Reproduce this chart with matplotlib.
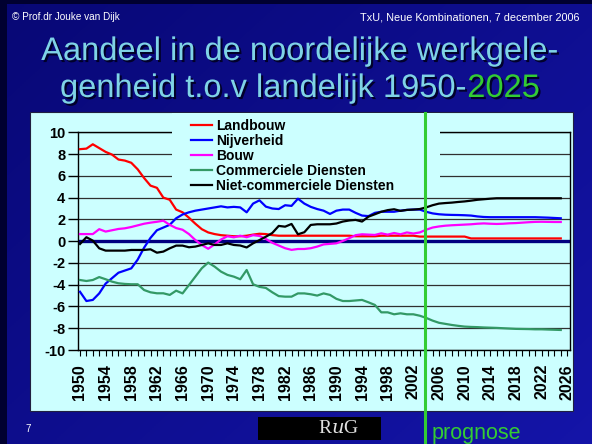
import numpy as np
import matplotlib
matplotlib.use("Agg")
import matplotlib.pyplot as plt
from matplotlib.patches import Rectangle
from matplotlib.transforms import blended_transform_factory
import matplotlib.patheffects as pe

# ---------------- data ----------------
years = list(range(1950, 2026))

landbouw = [8.45, 8.5, 8.9, 8.55, 8.2, 7.95, 7.5, 7.4, 7.2, 6.6,
            5.8, 5.1, 4.9, 4.0, 3.8, 2.9, 2.65, 2.15, 1.6, 1.1,
            0.8, 0.65, 0.55, 0.5, 0.45, 0.45, 0.5, 0.6, 0.68, 0.65,
            0.55, 0.5, 0.5, 0.5, 0.5, 0.5, 0.5, 0.5, 0.5, 0.5,
            0.5, 0.5, 0.5, 0.45, 0.45, 0.45, 0.45, 0.5, 0.5, 0.5,
            0.5, 0.5, 0.5, 0.42, 0.42, 0.42, 0.42, 0.42, 0.42, 0.42,
            0.42, 0.25, 0.25, 0.25, 0.25, 0.25, 0.25, 0.25, 0.25, 0.25,
            0.25, 0.25, 0.25, 0.25, 0.25, 0.25]

nijverheid = [-4.65, -5.5, -5.4, -4.8, -3.9, -3.4, -2.9, -2.7, -2.5, -1.7,
              -0.6, 0.3, 1.0, 1.25, 1.5, 2.1, 2.45, 2.65, 2.8, 2.9,
              3.0, 3.1, 3.2, 3.1, 3.15, 3.1, 2.65, 3.45, 3.75, 3.17,
              3.0, 2.95, 3.3, 3.24, 3.9, 3.45, 3.15, 2.95, 2.8, 2.5,
              2.8, 2.9, 2.9, 2.6, 2.35, 2.3, 2.6, 2.7, 2.7, 2.7,
              2.8, 2.87, 2.9, 2.9, 2.7, 2.55, 2.47, 2.43, 2.41, 2.4,
              2.38, 2.35, 2.27, 2.22, 2.2, 2.2, 2.2, 2.2, 2.2, 2.2,
              2.2, 2.2, 2.18, 2.16, 2.13, 2.1]

bouw = [0.65, 0.65, 0.65, 1.1, 0.88, 1.0, 1.12, 1.18, 1.3, 1.45,
        1.6, 1.7, 1.78, 1.88, 1.5, 1.2, 1.05, 0.65, 0.1, -0.35,
        -0.7, -0.3, 0.15, 0.45, 0.35, 0.5, 0.36, 0.55, 0.48, 0.2,
        -0.15, -0.4, -0.65, -0.8, -0.72, -0.72, -0.65, -0.5, -0.3, -0.25,
        -0.2, 0.02, 0.27, 0.55, 0.63, 0.6, 0.57, 0.72, 0.6, 0.75,
        0.63, 0.8, 0.7, 0.8, 1.05, 1.25, 1.35, 1.42, 1.46, 1.49,
        1.52, 1.55, 1.6, 1.63, 1.6, 1.58, 1.6, 1.64, 1.66, 1.7,
        1.74, 1.77, 1.78, 1.77, 1.76, 1.76]

commerciele = [-3.57, -3.66, -3.57, -3.3, -3.5, -3.72, -3.87, -3.93, -3.96, -3.96,
               -4.49, -4.7, -4.79, -4.79, -4.94, -4.55, -4.8, -4.03, -3.26, -2.49,
               -1.97, -2.34, -2.8, -3.1, -3.26, -3.5, -2.65, -3.96, -4.2, -4.3,
               -4.7, -5.05, -5.1, -5.1, -4.8, -4.8, -4.88, -5.0, -4.8, -4.94,
               -5.3, -5.5, -5.5, -5.45, -5.4, -5.62, -5.86, -6.54, -6.54, -6.72,
               -6.63, -6.72, -6.72, -6.85, -7.05, -7.3, -7.5, -7.6, -7.7, -7.78,
               -7.85, -7.88, -7.9, -7.93, -7.95, -7.97, -8.0, -8.03, -8.06, -8.07,
               -8.08, -8.1, -8.1, -8.12, -8.14, -8.16]

niet_commerciele = [-0.26, 0.36, 0.05, -0.66, -0.87, -0.87, -0.87, -0.87, -0.81, -0.81,
                    -0.81, -0.75, -1.06, -0.96, -0.66, -0.41, -0.41, -0.56, -0.5, -0.35,
                    -0.2, -0.35, -0.35, -0.2, -0.35, -0.4, -0.58, -0.2, 0.1, 0.41,
                    0.75, 1.4, 1.33, 1.58, 0.63, 0.82, 1.49, 1.55, 1.55, 1.55,
                    1.62, 1.8, 1.9, 1.95, 1.8, 2.25, 2.47, 2.7, 2.85, 2.93,
                    2.78, 2.87, 2.9, 2.95, 3.1, 3.3, 3.45, 3.5, 3.54, 3.6,
                    3.65, 3.72, 3.8, 3.85, 3.9, 3.94, 3.94, 3.94, 3.94, 3.94,
                    3.94, 3.94, 3.94, 3.94, 3.94, 3.94]

series_names = ["Landbouw", "Nijverheid", "Bouw", "Commerciele Diensten",
                "Niet-commerciele Diensten"]
series_values = [landbouw, nijverheid, bouw, commerciele, niet_commerciele]
series_colors = ["#FF0000", "#0000FF", "#FF00FF", "#339966", "#000000"]

y_ticks = list(range(-10, 11, 2))
tick_years = list(range(1950, 2027))
tick_labels = [str(y) if (y - 1950) % 4 == 0 else "" for y in tick_years]
prognose_year = 2003.8

title_line1 = "Aandeel in de noordelijke werkgele-"
title_line2 = "genheid t.o.v landelijk 1950-"
title_hl = "2025"

# ---------------- figure ----------------
W, H = 592, 444
fig = plt.figure(figsize=(W / 100, H / 100), dpi=100)
fig.patch.set_facecolor("#0A0A8A")

def fx(px):
    return px / W

def fy(py):
    return 1 - py / H

# background gradient
bg = fig.add_axes([0, 0, 1, 1])
bg.set_zorder(-3)
gx = np.linspace(0, 1, 300)[None, :]
gy = np.linspace(0, 1, 220)[:, None]
t = np.clip(0.55 * gx + 0.45 * gy, 0, 1)
c0 = np.array([0.03, 0.03, 0.46])
c1 = np.array([0.08, 0.08, 0.66])
img = c0[None, None, :] * (1 - t[..., None]) + c1[None, None, :] * t[..., None]
bg.imshow(img, extent=[0, 1, 0, 1], aspect="auto", origin="upper")
bg.set_xlim(0, 1)
bg.set_ylim(0, 1)
bg.axis("off")

# dark borders left/top
fig.patches.append(Rectangle((0, 0), fx(7), 1, transform=fig.transFigure,
                             facecolor="#000030", edgecolor="none", zorder=-2))
fig.patches.append(Rectangle((0, fy(4)), 1, fy(0) - fy(4), transform=fig.transFigure,
                             facecolor="#000030", edgecolor="none", zorder=-2))

# chart panel
fig.patches.append(Rectangle((fx(30), fy(411)), fx(573) - fx(30), fy(112) - fy(411),
                             transform=fig.transFigure, facecolor="#CCFFFF",
                             edgecolor="#202040", lw=0.8, zorder=-1))

# plot axes
ax = fig.add_axes([fx(78), fy(350), fx(570) - fx(78), fy(132.3) - fy(350)])
ax.set_facecolor("#CCFFFF")
ax.set_xlim(1949.69, 2026.44)
ax.set_ylim(-10, 10)

for v in y_ticks:
    ax.axhline(v, color="#303030", lw=0.9, zorder=1)
ax.axhline(0, color="#000080", lw=2.4, zorder=1.5)

handles = []
for name, vals, col in zip(series_names, series_values, series_colors):
    h, = ax.plot(years, vals, color=col, lw=1.6, label=name, zorder=3,
                 solid_joinstyle="round")
    handles.append(h)

for s in ax.spines.values():
    s.set_color("black")
    s.set_linewidth(1.0)

ax.set_yticks(y_ticks)
ax.set_yticklabels([str(v) for v in y_ticks], fontsize=10.5, fontweight="bold",
                   family="Liberation Sans")
ax.tick_params(axis="y", length=7, width=1, pad=2, color="black")
ax.set_xticks(tick_years)
ax.set_xticklabels(tick_labels, rotation=90, fontsize=11.5, fontweight="bold",
                   family="Liberation Sans")
ax.tick_params(axis="x", length=4, width=0.8, pad=6, color="black")

# legend background (covers grid)
ax.add_patch(Rectangle((fx(172), fy(194)), fx(440) - fx(172), fy(113) - fy(194),
                       transform=fig.transFigure, facecolor="#CCFFFF",
                       edgecolor="none", zorder=4, clip_on=False))
leg = ax.legend(handles=handles, loc="upper left",
                bbox_to_anchor=((191 - 78) / 492, (350 - 118.5) / 217.7),
                frameon=False, borderpad=0, borderaxespad=0,
                handlelength=1.5, handletextpad=0.3, labelspacing=0.08,
                prop={"family": "Liberation Sans", "weight": "bold", "size": 10})
leg.set_zorder(5)

# prognose vertical line
trans = blended_transform_factory(ax.transData, fig.transFigure)
ax.plot([prognose_year, prognose_year], [fy(113), 0], transform=trans,
        color="#33CC33", lw=2.2, clip_on=False, zorder=6)
fig.text(fx(432), fy(439), "prognose", color="#33CC33", fontsize=15.5,
         family="Liberation Sans", ha="left", va="baseline")

# RuG logo box
fig.patches.append(Rectangle((fx(258), fy(440)), fx(381) - fx(258), fy(417) - fy(440),
                             transform=fig.transFigure, facecolor="black",
                             edgecolor="none", zorder=2))
fig.text(fx(339), fy(428.5), "R$\\mathit{u}$G", color="#E0E0E0", fontsize=14,
         family="Liberation Serif", ha="center", va="center", zorder=3,
         math_fontfamily="dejavuserif")

# slide number
fig.text(fx(25), fy(432), "7", color="white", fontsize=7, family="Liberation Sans")

# header texts
fig.text(fx(12), fy(20), "\u00a9 Prof.dr Jouke van Dijk", color="white",
         fontsize=7.2, family="Liberation Sans", va="baseline")
fig.text(fx(580), fy(20), "TxU, Neue Kombinationen, 7 december 2006", color="white",
         fontsize=7.8, family="Liberation Sans", ha="right", va="baseline")

# title
shadow = [pe.withSimplePatchShadow(offset=(1.5, -1.5), shadow_rgbFace="#000020",
                                   alpha=0.9)]
fig.text(fx(300), fy(60), title_line1, color="#7FD3E6", fontsize=23.5,
         family="Liberation Sans", ha="center", va="baseline", path_effects=shadow)
t1 = fig.text(fx(60), fy(97), title_line2, color="#7FD3E6", fontsize=23.5,
              family="Liberation Sans", ha="left", va="baseline", path_effects=shadow)
ann = ax.annotate(title_hl, xy=(1, 0), xycoords=t1, color="#33CC33",
                  fontsize=23.5, family="Liberation Sans", ha="left", va="bottom",
                  path_effects=shadow, annotation_clip=False)

fig.savefig("out.png", dpi=100, facecolor=fig.get_facecolor())
